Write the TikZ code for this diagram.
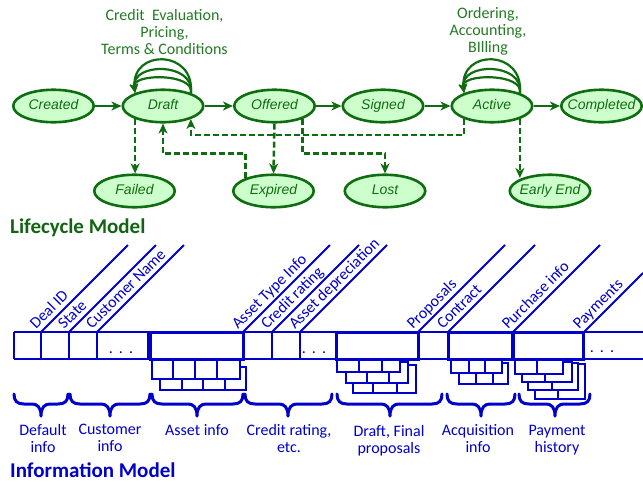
\documentclass[tikz,border=0pt]{standalone}
\usepackage{fontspec}
\setmainfont{Carlito}
\newfontfamily\arialf{Liberation Sans}
\usetikzlibrary{shapes.geometric,arrows.meta}
\definecolor{lcgreen}{RGB}{16,108,16}
\definecolor{lctext}{RGB}{36,122,36}
\definecolor{lcfill}{RGB}{204,255,204}
\definecolor{imblue}{RGB}{0,0,204}
\definecolor{ttlgreen}{RGB}{18,100,18}
\newcommand{\stxt}[1]{\makebox[0pt]{#1}}
\newcommand{\ibrace}[3]{\draw[bracestyle] (#1,394) .. controls (#1,401) and (#1+3,404) .. (#1+10,404) -- (#3-9,404) .. controls (#3-4,404) and (#3,407) .. (#3,416) .. controls (#3,407) and (#3+4,404) .. (#3+9,404) -- (#2-10,404) .. controls (#2-3,404) and (#2,401) .. (#2,394);}
\tikzset{
  state/.style={ellipse, draw=lcgreen, fill=lcfill, line width=2.6pt, minimum width=80.5pt, minimum height=32.5pt, inner sep=0pt, text height=10pt, text depth=3pt, text=lcgreen, font=\arialf\itshape\fontsize{14}{14}\selectfont},
  flow/.style={draw=lcgreen, line width=2.6pt, -{Stealth[length=10pt,width=9pt,inset=3pt]}},
  dflow/.style={draw=lcgreen, line width=2.5pt, dash pattern=on 6pt off 3pt, -{Stealth[length=10pt,width=9pt,inset=3pt]}},
  loopst/.style={draw=lcgreen, line width=2.2pt, -{Stealth[length=9pt,width=8pt,inset=2.5pt]}},
  lclabel/.style={text=lctext, font=\fontsize{16}{17}\selectfont, align=center, inner sep=0pt},
  title/.style={font=\bfseries\fontsize{21}{21}\selectfont, inner sep=0pt, anchor=base west},
  card/.style={draw=imblue, fill=white, line width=2pt},
  bar/.style={draw=imblue, line width=2pt},
  blockst/.style={draw=imblue, line width=3pt},
  diag/.style={draw=imblue, line width=2pt},
  diaglabel/.style={text=imblue, font=\fontsize{16}{16}\selectfont, inner sep=0pt, anchor=base west, rotate=45},
  imlabel/.style={text=imblue, font=\fontsize{16}{17}\selectfont, align=center, inner sep=0pt},
  bracestyle/.style={draw=imblue, line width=3pt, line cap=round, line join=round}
}
\begin{document}
\begin{tikzpicture}[x=1pt,y=-1pt]
\useasboundingbox (0,0) rectangle (643,482);
% ---------- Lifecycle model ----------
\node[state] (created) at (53.5,106) {\stxt{Created}};
\node[state] (draft) at (163,106) {\stxt{Draft}};
\node[state] (offered) at (274.5,106) {\stxt{Offered}};
\node[state] (signed) at (383,106) {\stxt{Signed}};
\node[state] (active) at (492,106) {\stxt{Active}};
\node[state] (completed) at (601.5,106) {\stxt{Completed}};
\node[state] (failed) at (134.5,191) {\stxt{Failed}};
\node[state] (expired) at (273.5,191) {\stxt{Expired}};
\node[state] (lost) at (385,191) {\stxt{Lost}};
\node[state] (earlyend) at (550,191) {\stxt{Early End}};

\draw[flow] (created) -- (draft);
\draw[flow] (draft) -- (offered);
\draw[flow] (offered) -- (signed);
\draw[flow] (signed) -- (active);
\draw[flow] (active) -- (completed);

\foreach \c in {20,31,44} {
  \draw[loopst] (draft.25) .. controls +(4,-\c) and +(-4,-\c) .. (draft.155);
  \draw[loopst] (active.25) .. controls +(4,-\c) and +(-4,-\c) .. (active.155);
}

\coordinate (ylow) at (0,153.5);
\coordinate (ymid) at (0,135);
\draw[dflow] (draft.205) -- (draft.205 |- failed.north);
\draw[dflow] (offered.south) -- (expired.north);
\draw[dflow] (expired.155) -- (expired.155 |- ylow) -| (draft.south);
\draw[dflow] (active.205) -- (active.205 |- ymid) -| (draft.335);
\draw[dflow] (offered.335) -- (offered.335 |- ylow) -| (lost.north);
\draw[dflow] (active.335) -- (active.335 |- earlyend.155);

\node[lclabel, anchor=north] (credlbl) at (164.5,9.5) {Credit\ \ Evaluation,\\Pricing,\\Terms \& Conditions};
\node[lclabel, anchor=north] (ordlbl) at (488,7.5) {Ordering,\\Accounting,\\BIlling};

\node[title, text=ttlgreen] (lctitle) at (10,233) {Lifecycle Model};

% ---------- Information model ----------
% stacked records (back to front)
\filldraw[card] (160,367) rectangle (246,390);
\draw[card] (182,367)--(182,390) (203,367)--(203,390) (225,367)--(225,390);
\filldraw[card] (152,359) rectangle (240,379);
\draw[card] (173,359)--(173,379) (195,359)--(195,379) (217,359)--(217,379);

\filldraw[card] (353,365) rectangle (416,393);
\draw[card] (373,365)--(373,393) (397,365)--(397,393);
\filldraw[card] (346,362) rectangle (408,383);
\draw[card] (367,362)--(367,383) (389,362)--(389,383);
\filldraw[card] (337,359) rectangle (400,372);
\draw[card] (359,359)--(359,372) (382,359)--(382,372);

\filldraw[card] (459,363) rectangle (508,384);
\draw[card] (476,363)--(476,384) (493,363)--(493,384);
\filldraw[card] (451,359) rectangle (502,373);
\draw[card] (469,359)--(469,373) (485,359)--(485,373);

\filldraw[card] (535,364) rectangle (585,399);
\draw[card] (558,364)--(558,399);
\filldraw[card] (528,363) rectangle (578,390);
\draw[card] (552,363)--(552,390);
\filldraw[card] (522,362) rectangle (572,382);
\draw[card] (545,362)--(545,382);
\filldraw[card] (515,359) rectangle (563,374);
\draw[card] (537,359)--(537,374);

% main bar
\draw[bar] (14,332) -- (643,332) (14,359) -- (643,359);
\draw[bar] (14,332)--(14,359) (41,332)--(41,359) (69,332)--(69,359) (97,332)--(97,359) (148,332)--(148,359) (272,332)--(272,359) (300,332)--(300,359);
\draw[blockst] (150,332) rectangle (243,359);
\draw[blockst] (336,332) rectangle (418,359);
\draw[blockst] (448,332) rectangle (512,359);
\draw[blockst] (513,332) rectangle (583,359);

\node[imlabel, anchor=base] (dots1) at (121,353) {.\hspace{6pt}.\hspace{6pt}.};
\node[imlabel, anchor=base] (dots2) at (314,353) {.\hspace{6pt}.\hspace{6pt}.};
\node[imlabel, anchor=base] (dots3) at (602,352) {.\hspace{6pt}.\hspace{6pt}.};

% diagonal field labels
\foreach \x/\t in {41/Deal ID, 69/State, 97/Customer Name, 243/Asset Type Info, 272/Credit rating, 300/Asset depreciation, 418/Proposals, 448/Contract, 513/Purchase info} {
  \draw[diag] (\x,332) -- (\x+87,245);
  \node[diaglabel] at (\x-5,330) {\t};
}
\draw[diag] (584,332) -- (643,273);
\node[diaglabel] (lblpay) at (579,330) {Payments};

% braces
\ibrace{14}{68}{41}
\ibrace{70}{150}{110}
\ibrace{152}{243}{197}
\ibrace{245}{332}{288}
\ibrace{337}{442}{390}
\ibrace{447}{515}{481}
\ibrace{519}{590}{555}

\node[imlabel, anchor=north] (b1) at (43,424) {Default\\info};
\node[imlabel, anchor=north] (b2) at (110,424) {Customer\\info};
\node[imlabel, anchor=north] (b3) at (197,424) {Asset info};
\node[imlabel, anchor=north] (b4) at (289,424) {Credit rating,\\etc.};
\node[imlabel, anchor=north] (b5) at (389,425) {Draft, Final\\proposals};
\node[imlabel, anchor=north] (b6) at (478,424) {Acquisition\\info};
\node[imlabel, anchor=north] (b7) at (557,425) {Payment\\history};

\node[title, text=imblue] (imtitle) at (10,477) {Information Model};
\end{tikzpicture}
\end{document}
